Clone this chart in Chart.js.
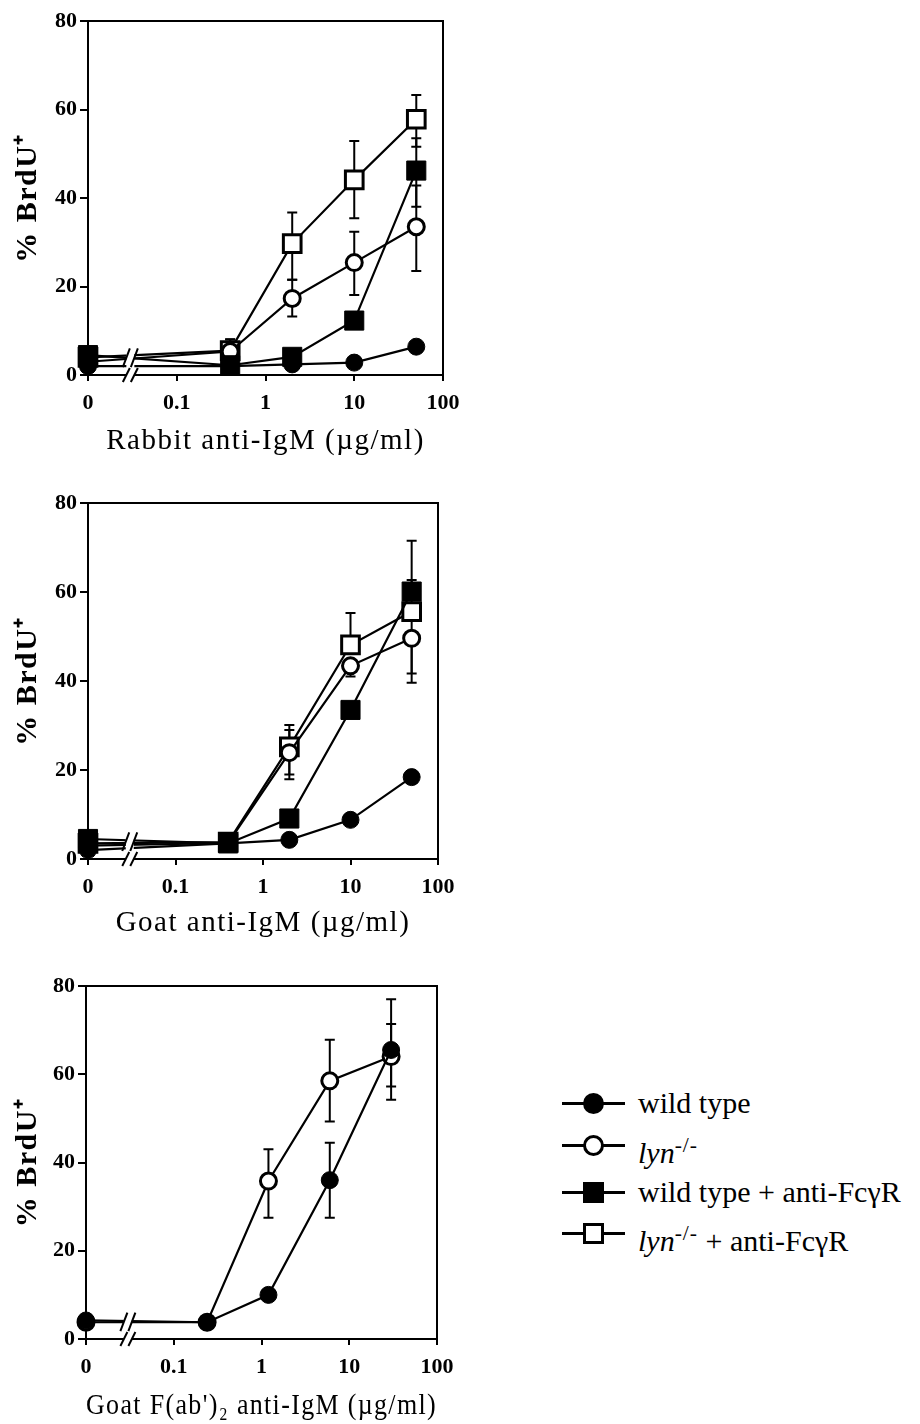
<!DOCTYPE html>
<html>
<head>
<meta charset="utf-8">
<title>BrdU incorporation</title>
<script src="https://cdn.jsdelivr.net/npm/chart.js@4.4.1/dist/chart.umd.min.js"></script>
<style>
  body { margin: 0; background: #fff; }
  #page { position: relative; width: 920px; height: 1424px; overflow: hidden; }
  #page canvas { position: absolute; left: 0; }
  .lg-row { position: absolute; left: 562px; width: 358px; height: 40px; font-family: 'Liberation Serif', serif; }
  .lg-line { position: absolute; left: 0; top: 19px; width: 63px; height: 2.5px; background: #000; }
  .lg-mark { position: absolute; left: 21px; top: 10px; width: 21px; height: 21px; box-sizing: border-box; }
  .lg-text { position: absolute; left: 76px; top: 0; line-height: 40px; font-size: 30px; white-space: nowrap; color: #000; }
  .lg-text sup { font-size: 0.72em; vertical-align: 0.5em; letter-spacing: 1px; }
</style>
</head>
<body>
<div id="page">
  <canvas id="rabbit" width="480" height="470" style="top:0px"></canvas>
  <canvas id="goat" width="480" height="470" style="top:480px"></canvas>
  <canvas id="fab" width="480" height="462" style="top:962px"></canvas>

  <div class="lg-row" style="top:1083px">
    <div class="lg-line"></div><div class="lg-mark" style="background:#000;border-radius:50%"></div>
    <div class="lg-text">wild type</div>
  </div>
  <div class="lg-row" style="top:1125px">
    <div class="lg-line"></div><div class="lg-mark" style="background:#fff;border:3px solid #000;border-radius:50%"></div>
    <div class="lg-text"><i>lyn</i><sup>-/-</sup></div>
  </div>
  <div class="lg-row" style="top:1172px">
    <div class="lg-line"></div><div class="lg-mark" style="background:#000"></div>
    <div class="lg-text">wild type + anti-FcγR</div>
  </div>
  <div class="lg-row" style="top:1213px">
    <div class="lg-line"></div><div class="lg-mark" style="background:#fff;border:3px solid #000"></div>
    <div class="lg-text"><i>lyn</i><sup>-/-</sup> + anti-FcγR</div>
  </div>
</div>

<script>
// where the "0" dose sits on the log axis, and where the axis is broken
const ZERO_AT = 0.01;
const BREAK_AT = 0.03;
const X_TICKS = [0.01, 0.1, 1, 10, 100];
const X_TICK_LABELS = ['0', '0.1', '1', '10', '100'];
const Y_MIN = 0, Y_MAX = 80, Y_STEP = 20;

// doses (µg/ml)
const dosesIgM = [0, 0.4, 2, 10, 50];
const dosesFab = [0, 0.24, 1.2, 6, 30];

// Rabbit anti-IgM, % BrdU+
const rabbitWt    = [2, 2, 2.4, 2.8, 6.4];
const rabbitLyn   = [3, 5.3, 17.3, 25.4, 33.5];
const rabbitWtFc  = [4.5, 2.2, 4.1, 12.3, 46.2];
const rabbitLynFc = [4, 5.5, 29.7, 44.1, 57.8];
const rabbitLynLo   = [null, null, 13.2, 18.1, 23.5];
const rabbitLynHi   = [null, 8.1, 21.5, 32.4, 42.8];
const rabbitWtFcLo  = [null, null, null, null, 38];
const rabbitWtFcHi  = [null, null, null, null, 53.5];
const rabbitLynFcLo = [null, null, 21.5, 35.4, 51.6];
const rabbitLynFcHi = [null, 8, 36.7, 52.9, 63.3];

// Goat anti-IgM
const goatWt    = [2, 3.5, 4.3, 8.8, 18.4];
const goatLyn   = [3, 3.6, 23.9, 43.4, 49.6];
const goatWtFc  = [4.5, 3.5, 9.1, 33.5, 60.1];
const goatLynFc = [3.5, 3.8, 25.2, 48.1, 55.6];
const goatLynLo   = [null, null, 17.9, 41, 39.6];
const goatLynHi   = [null, null, 29, null, null];
const goatWtFcHi  = [null, null, null, null, 71.5];
const goatLynFcLo = [null, null, 19, null, 41.7];
const goatLynFcHi = [null, null, 30.1, 55.3, 62.7];

// Goat F(ab')2 anti-IgM
const fabWt  = [4.2, 3.8, 10, 36, 65.5];
const fabLyn = [3.8, 3.8, 35.8, 58.5, 64];
const fabWtLo  = [null, null, null, 27.5, 54.2];
const fabWtHi  = [null, null, null, 44.5, 77];
const fabLynLo = [null, null, 27.5, 49.3, 57.2];
const fabLynHi = [null, null, 43, 67.8, 71.4];

const MARKERS = {
  wt:    { style: 'circle', r: 8.5, fill: '#000', bw: 1 },
  lyn:   { style: 'circle', r: 8,   fill: '#fff', bw: 3 },
  wtFc:  { style: 'rect',   r: 13.5, fill: '#000', bw: 1 },
  lynFc: { style: 'rect',   r: 12.5, fill: '#fff', bw: 3 }
};

function series(kind, doses, values, lo, hi) {
  const m = MARKERS[kind];
  return {
    data: doses.map((d, i) => ({ x: d === 0 ? ZERO_AT : d, y: values[i] })),
    errLo: lo || [], errHi: hi || [],
    showLine: true,
    borderColor: '#000',
    borderWidth: 2.2,
    pointStyle: m.style,
    pointRadius: m.r,
    pointHoverRadius: m.r,
    pointBackgroundColor: m.fill,
    pointBorderColor: '#000',
    pointBorderWidth: m.bw,
    clip: false
  };
}

Chart.defaults.font.family = "'Liberation Serif', serif";
Chart.defaults.color = '#000';

// the printed axis titles are set loosely; tick numbers are not
const titleSpacing = {
  id: 'titleSpacing',
  afterLayout(chart) {
    Object.values(chart.scales).forEach(s => {
      if (s._spaced) return;
      const draw = s.drawTitle.bind(s);
      s.drawTitle = () => {
        s.ctx.letterSpacing = '1.5px';
        draw();
        s.ctx.letterSpacing = '0px';
      };
      s._spaced = true;
    });
  }
};

// error bars sit behind the markers
const errorBars = {
  id: 'errorBars',
  beforeDatasetsDraw(chart) {
    const { ctx, scales: { x, y } } = chart;
    ctx.save();
    ctx.strokeStyle = '#000';
    ctx.lineWidth = 2;
    chart.data.datasets.forEach(ds => {
      ds.data.forEach((p, i) => {
        const px = x.getPixelForValue(p.x);
        const py = y.getPixelForValue(p.y);
        [ds.errLo[i], ds.errHi[i]].forEach(v => {
          if (v == null) return;
          const ey = y.getPixelForValue(v);
          ctx.beginPath();
          ctx.moveTo(px, py);
          ctx.lineTo(px, ey);
          ctx.moveTo(px - 5, ey);
          ctx.lineTo(px + 5, ey);
          ctx.stroke();
        });
      });
    });
    ctx.restore();
  }
};

// top and right sides of the box
const frame = {
  id: 'frame',
  beforeDatasetsDraw(chart) {
    const { ctx, chartArea: a } = chart;
    ctx.save();
    ctx.strokeStyle = '#000';
    ctx.lineWidth = 2;
    ctx.beginPath();
    ctx.moveTo(a.left - 1, a.top);
    ctx.lineTo(a.right, a.top);
    ctx.lineTo(a.right, a.bottom);
    ctx.stroke();
    ctx.restore();
  }
};

// "//" break between 0 and 0.1, across the axis and the low lines
const axisBreak = {
  id: 'axisBreak',
  afterDatasetsDraw(chart) {
    const { ctx, chartArea: a, scales: { x, y } } = chart;
    const bx = x.getPixelForValue(BREAK_AT);
    const gap = 4;
    const top = y.getPixelForValue(6.5);
    ctx.save();
    ctx.fillStyle = '#fff';
    ctx.fillRect(bx - gap, top, gap * 2, a.bottom + 2 - top);
    ctx.strokeStyle = '#000';
    ctx.lineWidth = 2;
    [-gap, gap].forEach(dx => {
      [[a.bottom + 7, a.bottom - 7], [y.getPixelForValue(1.8), y.getPixelForValue(6)]].forEach(([y0, y1]) => {
        ctx.beginPath();
        ctx.moveTo(bx + dx - 3.5, y0);
        ctx.lineTo(bx + dx + 3.5, y1);
        ctx.stroke();
      });
    });
    ctx.restore();
  }
};

function makeChart(id, box, title, datasets) {
  return new Chart(document.getElementById(id), {
    type: 'scatter',
    data: { datasets },
    plugins: [titleSpacing, frame, errorBars, axisBreak],
    options: {
      responsive: false,
      animation: false,
      events: [],
      layout: { padding: { top: box.top, right: box.right, bottom: 0, left: 0 } },
      plugins: { legend: { display: false }, tooltip: { enabled: false } },
      scales: {
        x: {
          type: 'logarithmic',
          min: X_TICKS[0],
          max: X_TICKS[X_TICKS.length - 1],
          afterBuildTicks: s => { s.ticks = X_TICKS.map(v => ({ value: v })); },
          afterFit: s => { s.height = box.axisH; },
          ticks: {
            autoSkip: false,
            maxRotation: 0,
            padding: 9,
            font: { size: 22, weight: 'bold' },
            callback: v => X_TICK_LABELS[X_TICKS.indexOf(v)]
          },
          grid: { drawOnChartArea: false, drawTicks: true, tickLength: 6, color: '#000', lineWidth: 2 },
          border: { display: true, color: '#000', width: 2 },
          title: {
            display: true,
            text: title,
            font: { size: 29 },
            padding: { top: 0, bottom: box.titlePad }
          }
        },
        y: {
          min: Y_MIN,
          max: Y_MAX,
          afterFit: s => { s.width = box.left; },
          ticks: { stepSize: Y_STEP, padding: 3, font: { size: 22, weight: 'bold' } },
          grid: { drawOnChartArea: false, drawTicks: true, tickLength: 8, color: '#000', lineWidth: 2 },
          border: { display: true, color: '#000', width: 2 },
          title: {
            display: true,
            text: '% BrdU⁺',
            font: { size: 30, weight: 'bold' },
            padding: { top: 10, bottom: 0 }
          }
        }
      }
    }
  });
}

makeChart('rabbit', { top: 21, right: 37, left: 88, axisH: 95, titlePad: 11 },
  'Rabbit anti-IgM (µg/ml)', [
    series('wtFc', dosesIgM, rabbitWtFc, rabbitWtFcLo, rabbitWtFcHi),
    series('wt', dosesIgM, rabbitWt),
    series('lyn', dosesIgM, rabbitLyn, rabbitLynLo, rabbitLynHi),
    series('lynFc', dosesIgM, rabbitLynFc, rabbitLynFcLo, rabbitLynFcHi)
  ]);

makeChart('goat', { top: 23, right: 42, left: 88, axisH: 91, titlePad: 9 },
  'Goat anti-IgM (µg/ml)', [
    series('wtFc', dosesIgM, goatWtFc, null, goatWtFcHi),
    series('wt', dosesIgM, goatWt),
    series('lyn', dosesIgM, goatLyn, goatLynLo, goatLynHi),
    series('lynFc', dosesIgM, goatLynFc, goatLynFcLo, goatLynFcHi)
  ]);

makeChart('fab', { top: 24, right: 43, left: 86, axisH: 85, titlePad: 0 },
  'Goat F(ab\')₂ anti-IgM (µg/ml)', [
    series('wt', dosesFab, fabWt, fabWtLo, fabWtHi),
    series('lyn', dosesFab, fabLyn, fabLynLo, fabLynHi)
  ]);
</script>
</body>
</html>
